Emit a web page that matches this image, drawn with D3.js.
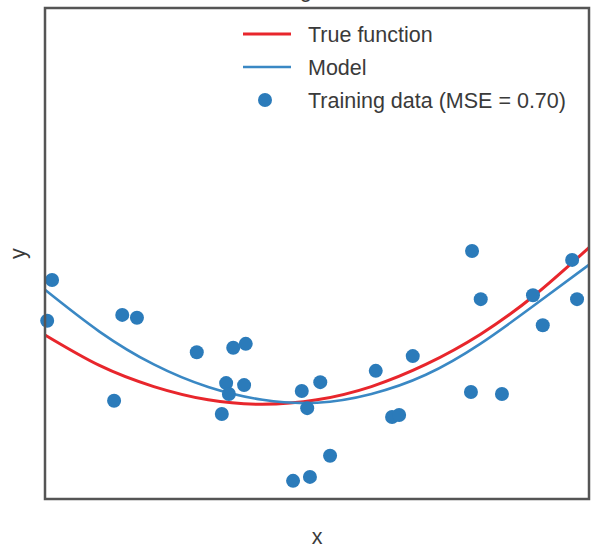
<!DOCTYPE html>
<html>
<head>
<meta charset="utf-8">
<script src="https://cdn.jsdelivr.net/npm/d3@7"></script>
<style>
  html, body { margin: 0; padding: 0; background: #fff; }
  svg { display: block; font-family: "Liberation Sans", Arial, sans-serif; }
</style>
</head>
<body>
<svg id="chart" width="597" height="556"></svg>
<script>
// Training samples
const sampleX = [0.013, 0.004, 0.142, 0.169, 0.127, 0.279, 0.346, 0.369, 0.333, 0.338,
                 0.366, 0.325, 0.472, 0.506, 0.482, 0.524, 0.456, 0.487, 0.608, 0.676,
                 0.638, 0.651, 0.785, 0.801, 0.897, 0.969, 0.978, 0.915, 0.783, 0.840];
const sampleY = [2.46, 1.63, 1.75, 1.69, 0.00, 0.99, 1.08, 1.16, 0.36, 0.14,
                 0.32, -0.27, 0.20, 0.38, -0.15, -1.12, -1.63, -1.55, 0.61, 0.91,
                 -0.33, -0.29, 3.05, 2.07, 2.15, 2.87, 2.07, 1.54, 0.18, 0.14];

// Curve grid
const gridX = [0, 0.1, 0.2, 0.3, 0.4, 0.5, 0.6, 0.7, 0.8, 0.9, 1.0];
const trueY = [1.34, 0.72, 0.29, 0.02, -0.07, 0.02, 0.29, 0.74, 1.35, 2.15, 3.12];
const modelY = [2.26, 1.41, 0.74, 0.28, 0.02, -0.04, 0.14, 0.53, 1.16, 1.95, 2.77];

const legendLabels = ["True function", "Model", "Training data (MSE = 0.70)"];
const titleText = "Degree 2";
const xLabel = "x";
const yLabel = "y";

const svg = d3.select("#chart");
const margin = { left: 45, right: 8, top: 8, bottom: 57 };
const W = 597, H = 556;

const x = d3.scaleLinear().domain([0, 1]).range([margin.left, W - margin.right]);
const y = d3.scaleLinear().domain([-2, 8]).range([H - margin.bottom, margin.top]);

const red = "#e8262c";
const blueLine = "#3a88c4";
const dot = "#2b7bba";
const textColor = "#3a3a3a";

svg.append("defs").append("clipPath").attr("id", "plotClip")
  .append("rect")
  .attr("x", x(0)).attr("y", y(8))
  .attr("width", x(1) - x(0)).attr("height", y(-2) - y(8));

// Title (sits mostly above the visible area)
svg.append("text")
  .attr("x", (x(0) + x(1)) / 2).attr("y", -3)
  .attr("text-anchor", "middle")
  .attr("font-size", 22).attr("fill", textColor)
  .text(titleText);

const line = d3.line().curve(d3.curveNatural)
  .x((d, i) => x(gridX[i])).y(d => y(d));

const plot = svg.append("g");

plot.append("path")
  .datum(trueY)
  .attr("d", line)
  .attr("fill", "none").attr("stroke", red).attr("stroke-width", 3);

plot.append("path")
  .datum(modelY)
  .attr("d", line)
  .attr("fill", "none").attr("stroke", blueLine).attr("stroke-width", 2.6);

plot.selectAll("circle.sample")
  .data(sampleX.map((v, i) => [v, sampleY[i]]))
  .join("circle")
  .attr("class", "sample")
  .attr("cx", d => x(d[0])).attr("cy", d => y(d[1]))
  .attr("r", 7)
  .attr("fill", dot);

// Frame
svg.append("rect")
  .attr("x", x(0)).attr("y", y(8))
  .attr("width", x(1) - x(0)).attr("height", y(-2) - y(8))
  .attr("fill", "none").attr("stroke", "#555").attr("stroke-width", 2.5);

// Legend
const lg = svg.append("g").attr("font-size", 21.5).attr("fill", textColor);
const rows = [34, 67, 100];
lg.append("line").attr("x1", 243).attr("x2", 291).attr("y1", rows[0]).attr("y2", rows[0])
  .attr("stroke", red).attr("stroke-width", 3);
lg.append("line").attr("x1", 243).attr("x2", 291).attr("y1", rows[1]).attr("y2", rows[1])
  .attr("stroke", blueLine).attr("stroke-width", 2.6);
lg.append("circle").attr("cx", 265).attr("cy", rows[2]).attr("r", 7).attr("fill", dot);
legendLabels.forEach((t, i) => {
  lg.append("text").attr("x", 308).attr("y", rows[i] + 8).text(t);
});

// Axis labels
svg.append("text")
  .attr("x", (x(0) + x(1)) / 2).attr("y", 544)
  .attr("text-anchor", "middle").attr("font-size", 21.5).attr("fill", textColor)
  .text(xLabel);
svg.append("text")
  .attr("transform", `translate(25, ${(y(8) + y(-2)) / 2}) rotate(-90)`)
  .attr("text-anchor", "middle").attr("font-size", 21.5).attr("fill", textColor)
  .text(yLabel);
</script>
</body>
</html>
